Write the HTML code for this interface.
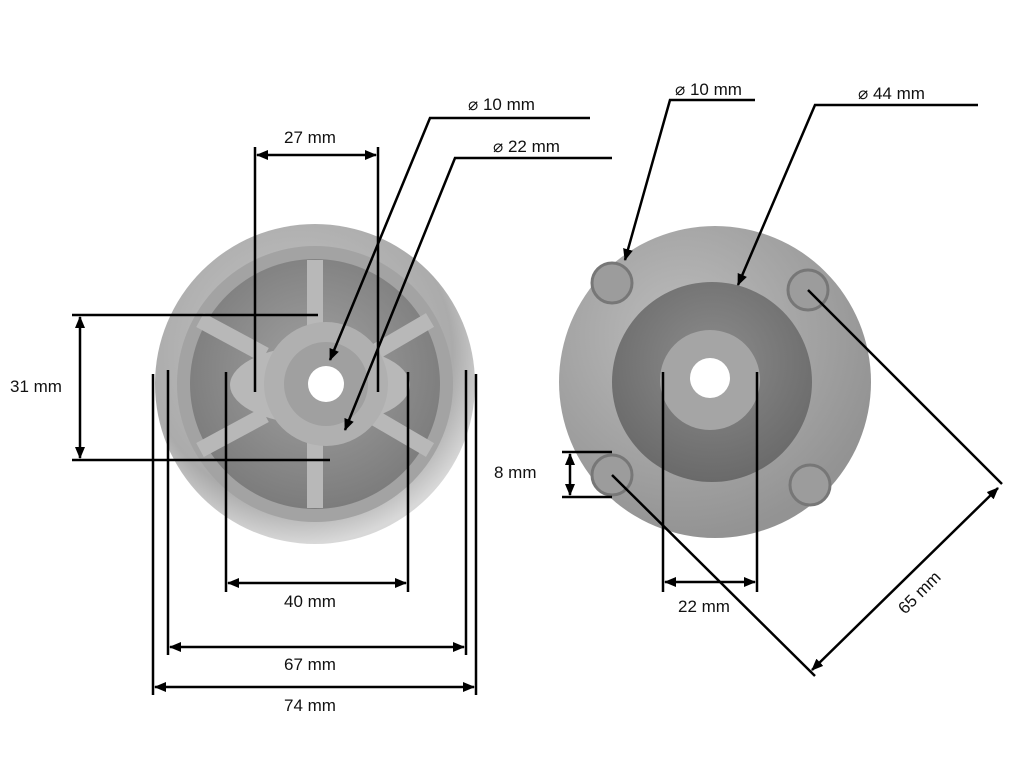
<!DOCTYPE html>
<html><head><meta charset="utf-8"><style>
html,body{margin:0;padding:0;background:#fff}
svg{display:block}
text{font-family:"Liberation Sans",sans-serif;font-size:17px;fill:#111}
</style></head><body>
<svg width="1024" height="768" viewBox="0 0 1024 768" xmlns="http://www.w3.org/2000/svg">
<defs>
<radialGradient id="g1" cx="45%" cy="40%" r="60%"><stop offset="0" stop-color="#c9c9c9"/><stop offset="0.8" stop-color="#ababab"/><stop offset="1" stop-color="#d8d8d8"/></radialGradient>
<radialGradient id="g2" cx="50%" cy="45%" r="55%"><stop offset="0" stop-color="#a2a2a2"/><stop offset="1" stop-color="#7c7c7c"/></radialGradient>
<radialGradient id="g3" cx="40%" cy="35%" r="65%"><stop offset="0" stop-color="#bdbdbd"/><stop offset="1" stop-color="#939393"/></radialGradient>
<radialGradient id="g4" cx="50%" cy="40%" r="60%"><stop offset="0" stop-color="#8c8c8c"/><stop offset="1" stop-color="#6a6a6a"/></radialGradient>
<marker id="a" markerWidth="12" markerHeight="10" refX="11" refY="5" orient="auto-start-reverse" markerUnits="userSpaceOnUse"><path d="M0,0 L12,5 L0,10 z" fill="#000"/></marker>
</defs>
<circle cx="315" cy="384" r="160" fill="url(#g1)"/>
<circle cx="315" cy="384" r="138" fill="#a3a3a3"/>
<circle cx="315" cy="384" r="125" fill="url(#g2)"/>
<g stroke="#b8b8b8" stroke-width="16">
<line x1="315" y1="260" x2="315" y2="330"/><line x1="315" y1="440" x2="315" y2="508"/>
<line x1="200" y1="320" x2="265" y2="355"/><line x1="430" y1="320" x2="370" y2="355"/>
<line x1="200" y1="450" x2="265" y2="415"/><line x1="430" y1="450" x2="370" y2="415"/>
</g>
<ellipse cx="320" cy="385" rx="90" ry="40" fill="#b8b8b8"/>
<circle cx="326" cy="384" r="62" fill="#b0b0b0"/>
<circle cx="326" cy="384" r="42" fill="#a0a0a0"/>
<circle cx="326" cy="384" r="18" fill="#fff"/>
<circle cx="715" cy="382" r="156" fill="url(#g3)"/>
<circle cx="712" cy="382" r="100" fill="url(#g4)"/>
<circle cx="710" cy="380" r="50" fill="#a5a5a5"/>
<circle cx="710" cy="378" r="20" fill="#fff"/>
<g fill="#9c9c9c" stroke="#777" stroke-width="3">
<circle cx="612" cy="283" r="20"/><circle cx="808" cy="290" r="20"/>
<circle cx="612" cy="475" r="20"/><circle cx="810" cy="485" r="20"/>
</g>
<g stroke="#000" stroke-width="2.5" fill="none">
<line x1="255" y1="147" x2="255" y2="392"/><line x1="378" y1="147" x2="378" y2="392"/>
<line x1="257" y1="155" x2="376" y2="155" marker-start="url(#a)" marker-end="url(#a)"/>
<polyline points="590,118 430,118 330,360" marker-end="url(#a)"/>
<polyline points="612,158 455,158 345,430" marker-end="url(#a)"/>
<line x1="72" y1="315" x2="318" y2="315"/><line x1="72" y1="460" x2="330" y2="460"/>
<line x1="80" y1="317" x2="80" y2="458" marker-start="url(#a)" marker-end="url(#a)"/>
<line x1="226" y1="372" x2="226" y2="592"/><line x1="408" y1="372" x2="408" y2="592"/>
<line x1="228" y1="583" x2="406" y2="583" marker-start="url(#a)" marker-end="url(#a)"/>
<line x1="168" y1="370" x2="168" y2="655"/><line x1="466" y1="370" x2="466" y2="655"/>
<line x1="170" y1="647" x2="464" y2="647" marker-start="url(#a)" marker-end="url(#a)"/>
<line x1="153" y1="374" x2="153" y2="695"/><line x1="476" y1="374" x2="476" y2="695"/>
<line x1="155" y1="687" x2="474" y2="687" marker-start="url(#a)" marker-end="url(#a)"/>
<polyline points="755,100 670,100 625,260" marker-end="url(#a)"/>
<polyline points="978,105 815,105 738,285" marker-end="url(#a)"/>
<line x1="562" y1="452" x2="612" y2="452"/><line x1="562" y1="497" x2="612" y2="497"/>
<line x1="570" y1="454" x2="570" y2="495" marker-start="url(#a)" marker-end="url(#a)"/>
<line x1="663" y1="372" x2="663" y2="592"/><line x1="757" y1="372" x2="757" y2="592"/>
<line x1="665" y1="582" x2="755" y2="582" marker-start="url(#a)" marker-end="url(#a)"/>
<line x1="808" y1="290" x2="1002" y2="484"/><line x1="612" y1="475" x2="815" y2="676"/>
<line x1="998" y1="488" x2="812" y2="670" marker-start="url(#a)" marker-end="url(#a)"/>
</g>
<text x="284" y="143">27 mm</text>
<text x="468" y="110">⌀ 10 mm</text>
<text x="493" y="152">⌀ 22 mm</text>
<text x="10" y="392">31 mm</text>
<text x="284" y="607">40 mm</text>
<text x="284" y="670">67  mm</text>
<text x="284" y="711">74 mm</text>
<text x="675" y="95">⌀ 10 mm</text>
<text x="858" y="99">⌀ 44 mm</text>
<text x="494" y="478">8 mm</text>
<text x="678" y="612">22 mm</text>
<text x="0" y="0" transform="translate(905,615) rotate(-45)">65 mm</text>
</svg>
</body></html>
